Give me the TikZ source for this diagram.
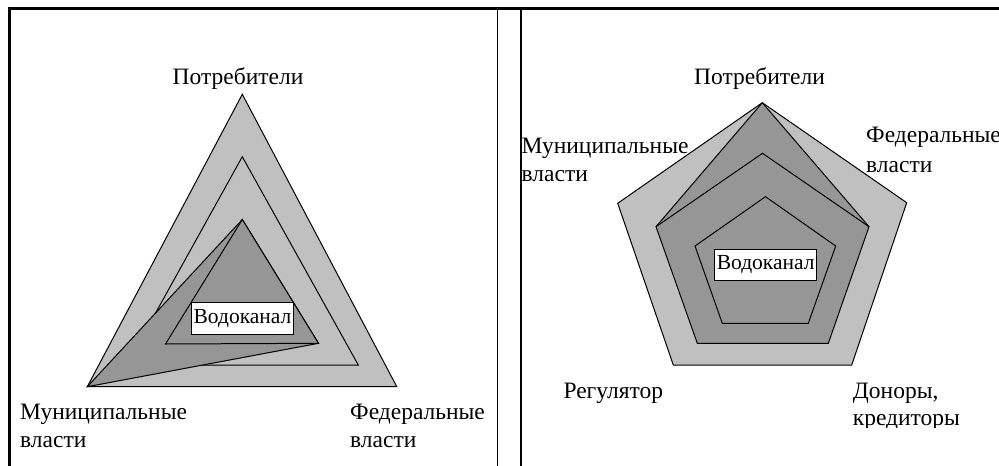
\documentclass[tikz,border=0pt]{standalone}
\usepackage{fontspec}
\setmainfont{Liberation Serif}
\definecolor{lightg}{RGB}{192,192,192}
\definecolor{darkg}{RGB}{150,150,150}
\begin{document}
\begin{tikzpicture}[x=1pt,y=-1pt,
  lg/.style={fill=lightg,draw=black,line width=1pt,line join=miter},
  dg/.style={fill=darkg,draw=black,line width=1pt,line join=miter},
  lbl/.style={font=\fontsize{23.5}{28}\selectfont,inner sep=0pt,anchor=base west},
  lblc/.style={font=\fontsize{23.5}{28}\selectfont,inner sep=0pt,anchor=base},
  wbox/.style={draw=black,fill=white,line width=1pt,font=\fontsize{21.5}{24}\selectfont,
    minimum width=101.6pt,minimum height=31.6pt,inner sep=0pt}]
\useasboundingbox (0,0) rectangle (999,466);
% frame
\draw[line width=3pt] (8,8.5) -- (999,8.5);
\draw[line width=3pt] (9.5,7) -- (9.5,466);
\draw[line width=1pt] (497,8.5) -- (497,466);
\draw[line width=1.2pt] (521,8.5) -- (521,466);

% ---------- left panel: triangles ----------
\coordinate (TA) at (242.3,94.3);
\coordinate (TL) at (87.3,386.7);
\coordinate (TR) at (396.7,386.5);
\coordinate (MA) at (242.3,156.7);
\coordinate (ML) at (126.7,365);
\coordinate (MR) at (358.3,365);
\coordinate (IA) at (242.3,219.5);
\coordinate (IL) at (165.5,344);
\coordinate (IR) at (318.5,343.3);
\filldraw[lg] (TA) -- (TR) -- (TL) -- cycle;
\filldraw[lg] (MA) -- (MR) -- (ML) -- cycle;
\filldraw[dg] (IA) -- (IR) -- (TL) -- cycle;
\filldraw[dg] (IA) -- (IR) -- (IL) -- cycle;
\node[wbox] (vk1) at (242.5,318.5) {Водоканал};

\node[lblc] (p1) at (238,84.5) {Потребители};
\node[lbl] (m1a) at (20,419) {Муниципальные};
\node[lbl] (m1b) at (20,447) {власти};
\node[lbl] (f1a) at (350,419) {Федеральные};
\node[lbl] (f1b) at (350,447) {власти};

% ---------- right panel: pentagons ----------
\coordinate (OT) at (762.3,102.7);
\coordinate (OR) at (906.7,202.7);
\coordinate (OBR) at (851.7,365);
\coordinate (OBL) at (673.3,365);
\coordinate (OL) at (617.7,203.3);
\coordinate (NT) at (762.5,153.3);
\coordinate (NR) at (869,226.7);
\coordinate (NBR) at (828.3,343.3);
\coordinate (NBL) at (697.3,343.3);
\coordinate (NL) at (656,226.7);
\coordinate (JT) at (765.5,196.7);
\coordinate (JR) at (835.7,246);
\coordinate (JBR) at (808.3,323.3);
\coordinate (JBL) at (722.3,323.3);
\coordinate (JL) at (695,246);
\filldraw[lg] (OT) -- (OR) -- (OBR) -- (OBL) -- (OL) -- cycle;
\filldraw[dg] (OT) -- (NR) -- (NBR) -- (NBL) -- (NL) -- cycle;
\draw[line width=1pt] (NL) -- (NT) -- (NR);
\filldraw[dg] (JT) -- (JR) -- (JBR) -- (JBL) -- (JL) -- cycle;
\node[wbox] (vk2) at (765.7,265) {Водоканал};

\node[lblc] (p2) at (759.5,84.5) {Потребители};
\node[lbl] (m2a) at (521.5,153) {Муниципальные};
\node[lbl] (m2b) at (521.5,181.5) {власти};
\node[lbl] (f2a) at (866,142) {Федеральные};
\node[lbl] (f2b) at (866,172) {власти};
\node[lbl] (r2) at (563.3,398.3) {Регулятор};
\node[lbl] (d2a) at (852.7,398.3) {Доноры,};
\begin{scope}
\clip (840,400) rectangle (999,427);
\node[lbl] (d2b) at (852.7,425) {кредиторы};
\end{scope}
\end{tikzpicture}
\end{document}
